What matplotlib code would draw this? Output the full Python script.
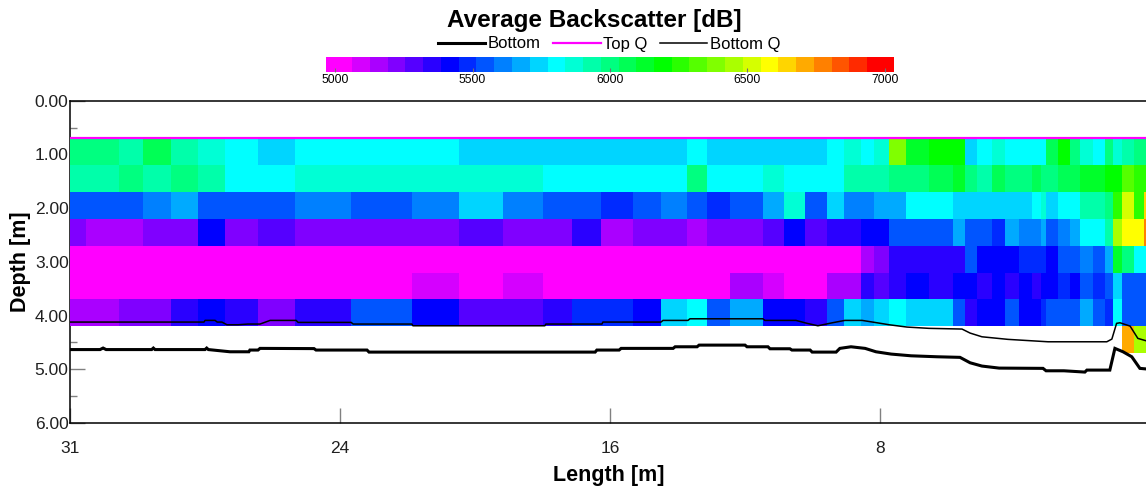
import numpy as np
import matplotlib
matplotlib.use('Agg')
import matplotlib.pyplot as plt
from matplotlib.colors import ListedColormap, BoundaryNorm

plt.rcParams['font.family'] = ['Liberation Sans', 'DejaVu Sans']

# --------------------------------------------
# DATA
# --------------------------------------------
scale_colors = ['#ff00ff', '#d500ff', '#aa00ff', '#8000ff', '#5500ff', '#2a00ff', '#0000ff',
                '#002aff', '#0055ff', '#0080ff', '#00aaff', '#00d5ff', '#00ffff', '#00ffd5',
                '#00ffaa', '#00ff80', '#00ff55', '#00ff2a', '#00ff00', '#2aff00', '#55ff00',
                '#80ff00', '#aaff00', '#d5ff00', '#ffff00', '#ffd500', '#ffaa00', '#ff8000',
                '#ff5500', '#ff2a00', '#ff0000']
# edges of the colour steps, dB
scale_bounds = [4967, 5062, 5127, 5191, 5256, 5320, 5385, 5450, 5514, 5579, 5643, 5708, 5773,
                5837, 5902, 5966, 6031, 6096, 6160, 6225, 6289, 6354, 6419, 6483, 6548, 6612,
                6677, 6742, 6806, 6871, 6935, 7033]
scale_ticks = [5000, 5500, 6000, 6500, 7000]

length_edges = [32.02, 31.52, 30.55, 29.83, 29.02, 28.22, 27.41, 26.42, 25.33, 23.67, 21.87,
                20.47, 19.17, 17.99, 17.13, 16.28, 15.33, 14.48, 13.73, 13.13, 12.43, 11.48,
                10.83, 10.23, 9.58, 9.08, 8.57, 8.18, 7.72, 7.23, 6.54, 5.83, 5.47, 5.13, 4.68,
                4.29, 3.87, 3.49, 3.23, 3.08, 2.73, 2.37, 2.07, 1.68, 1.32, 1.09, 0.83, 0.47,
                0.18, 0.0]
depth_edges = [0.70, 1.20, 1.70, 2.20, 2.70, 3.20, 3.70, 4.20, 4.70]

# backscatter per depth cell, as colour step of the scale (0 = 5000 dB, 30 = 7000 dB)
cells_07 = [15, 15, 14, 16, 14, 13, 12, 11, 12, 12, 12, 11, 11, 11, 11, 11, 11, 11, 12, 11, 11, 11, 11, 11, 12,
            13, 12, 13, 21, 17, 18, 18, 11, 12, 13, 12, 12, 12, 12, 16, 18, 15, 13, 12, 15, 13, 14, 15, 15]
cells_12 = [14, 14, 15, 14, 15, 14, 12, 12, 13, 13, 13, 13, 13, 12, 12, 12, 12, 12, 15, 12, 12, 13, 12, 12, 12,
            14, 14, 14, 15, 15, 16, 17, 15, 14, 16, 15, 15, 16, 15, 15, 16, 16, 17, 17, 18, 18, 20, 19, 19]
cells_17 = [8, 8, 8, 9, 10, 8, 8, 8, 9, 8, 9, 11, 9, 8, 8, 7, 8, 9, 8, 7, 8, 10, 13, 8, 11,
            9, 9, 10, 10, 12, 12, 11, 11, 11, 11, 11, 11, 12, 13, 11, 12, 12, 14, 14, 15, 19, 23, 19, 25]
cells_22 = [3, 2, 2, 3, 3, 6, 3, 4, 3, 3, 3, 4, 3, 3, 5, 2, 3, 3, 2, 3, 3, 4, 6, 4, 5,
            5, 6, 6, 8, 8, 8, 10, 8, 8, 7, 10, 9, 9, 10, 8, 9, 10, 12, 12, 14, 22, 24, 24, 27]
cells_27 = [0, 0, 0, 0, 0, 0, 0, 0, 0, 0, 0, 0, 0, 0, 0, 0, 0, 0, 0, 0, 0, 0, 0, 0, 0,
            0, 2, 3, 5, 5, 5, 5, 8, 6, 6, 6, 7, 7, 7, 6, 8, 8, 9, 8, 10, 17, 15, 12, 12]
cells_32 = [0, 0, 0, 0, 0, 0, 0, 0, 0, 0, 1, 0, 1, 0, 0, 0, 0, 0, 0, 0, 2, 1, 0, 0, 2,
            2, 5, 4, 5, 6, 5, 6, 6, 5, 6, 5, 6, 5, 6, 6, 7, 6, 8, 7, 8, 11, 8, 8, 8]
cells_37 = [2, 2, 3, 3, 5, 6, 5, 3, 5, 8, 6, 4, 4, 5, 7, 7, 6, 11, 12, 8, 10, 6, 6, 5, 8,
            11, 10, 11, 12, 11, 11, 8, 5, 6, 6, 8, 6, 6, 7, 8, 8, 8, 10, 8, 7, 12, 8, 8, 8]
cells_42 = [None] * 46 + [26, 22, 22]

top_q_length = [32.0, 0.0]
top_q_depth = [0.70, 0.70]

bottom_length = [32.0, 31.11, 31.02, 30.93, 29.58, 29.53, 29.48, 28.0, 27.95, 27.9, 27.26, 26.70, 26.67, 26.43,
                 26.37, 24.77, 24.71, 23.2, 23.14, 17.1, 16.44, 16.39, 15.73, 15.67, 14.13, 14.07, 13.42,
                 13.36, 12.0, 11.94, 11.32, 11.26, 10.67, 10.61, 10.07, 10.01, 9.30, 9.19, 8.86, 8.44, 8.12,
                 7.67, 7.08, 6.31, 5.63, 5.33, 4.98, 4.47, 3.17, 3.08, 2.55, 1.93, 1.87, 1.19, 1.04, 0.80,
                 0.54, 0.30, 0.0]
bottom_depth = [4.633, 4.633, 4.605, 4.633, 4.633, 4.605, 4.633, 4.633, 4.605, 4.633, 4.674, 4.674, 4.642, 4.642,
                4.611, 4.615, 4.642, 4.642, 4.68, 4.68, 4.68, 4.642, 4.642, 4.611, 4.611, 4.581, 4.581,
                4.55, 4.55, 4.581, 4.581, 4.618, 4.618, 4.642, 4.642, 4.68, 4.68, 4.611, 4.581, 4.611, 4.674,
                4.717, 4.749, 4.767, 4.778, 4.879, 4.94, 4.978, 4.983, 5.028, 5.028, 5.052, 5.015, 5.015, 4.611, 4.674,
                4.767, 4.983, 5.0]

bottom_q_length = [32.0, 28.03, 28.0, 27.7, 27.64, 27.5, 27.35, 27.02, 26.73, 26.37, 26.07, 25.3, 25.24, 23.67,
                   23.61, 21.87, 21.84, 17.93, 17.9, 16.24, 16.21, 14.49, 14.43, 13.69, 13.63, 11.47, 11.41,
                   10.49, 10.16, 9.84, 9.41, 9.04, 8.53, 8.16, 7.73, 7.2, 6.55, 5.57, 5.33, 4.98, 4.21, 3.02,
                   1.28, 1.13, 0.99, 0.89, 0.59, 0.36, 0.0]
bottom_q_depth = [4.121, 4.121, 4.09, 4.09, 4.121, 4.121, 4.171, 4.171, 4.158, 4.158, 4.09, 4.09, 4.127, 4.127,
                  4.158, 4.158, 4.19, 4.19, 4.158, 4.158, 4.121, 4.121, 4.09, 4.09, 4.06, 4.06, 4.09,
                  4.09, 4.145, 4.19, 4.134, 4.09, 4.09, 4.127, 4.171, 4.214, 4.238, 4.251, 4.326, 4.395, 4.443, 4.488,
                  4.488, 4.438, 4.145, 4.134, 4.196, 4.425, 4.49]

length_ticks = [32, 24, 16, 8, 0]
length_labels = ['31', '24', '16', '8', '0']
depth_ticks = [0, 1, 2, 3, 4, 5, 6]
depth_minor = [0.5, 1.5, 2.5, 3.5, 4.5, 5.5]

# --------------------------------------------
# PLOT
# --------------------------------------------
W, H = 1146, 486
fig = plt.figure(figsize=(W / 100, H / 100), dpi=100)


def px_axes(x0, y0, x1, y1):
    return fig.add_axes([x0 / W, 1 - y1 / H, (x1 - x0) / W, (y1 - y0) / H])


cmap = ListedColormap(scale_colors)
norm = BoundaryNorm(scale_bounds, cmap.N)
centres = (np.array(scale_bounds[:-1]) + np.array(scale_bounds[1:])) / 2
centres[0] = 5000
centres[-1] = 7000

rows = [cells_07, cells_12, cells_17, cells_22, cells_27, cells_32, cells_37, cells_42]
values = np.full((len(rows), len(length_edges) - 1), np.nan)
for i, row in enumerate(rows):
    for j, step in enumerate(row):
        if step is not None:
            values[i, j] = centres[step]

# the plot runs past the right edge of the picture, length 0 is cut off
ax = px_axes(70, 100.7, 1150, 423)
ax.pcolormesh(length_edges, depth_edges, values, cmap=cmap, norm=norm, zorder=3)
ax.plot(bottom_length, bottom_depth, color='black', lw=2.2, label='Bottom', zorder=4, solid_joinstyle='miter')
ax.plot(top_q_length, top_q_depth, color='#ff00ff', lw=1.6, label='Top Q', zorder=4)
ax.plot(bottom_q_length, bottom_q_depth, color='black', lw=1.1, label='Bottom Q', zorder=4)

ax.set_xlim(32, 0)
ax.set_ylim(6, 0)
ax.set_xticks(length_ticks)
ax.set_xticklabels(length_labels)
ax.set_yticks(depth_ticks)
ax.set_yticklabels([f'{d:.2f}' for d in depth_ticks])
ax.set_yticks(depth_minor, minor=True)
ax.tick_params(axis='x', direction='in', length=11, width=1, color='#808080', pad=13, labelsize=12.5, labelcolor='#202020')
ax.tick_params(axis='y', which='major', direction='in', length=11, width=1, color='#808080', pad=1, labelsize=12.5, labelcolor='#202020')
ax.tick_params(axis='y', which='minor', direction='in', length=5, width=1, color='#808080')
for spine in ax.spines.values():
    spine.set_linewidth(1.1)
    spine.set_zorder(2.5)
ax.set_xlabel('Length [m]', fontweight='bold', fontsize=15.5)
ax.xaxis.set_label_coords((609 - 70) / 1080, -(475 - 423) / 322.3, transform=ax.transAxes)
ax.xaxis.label.set_verticalalignment('center')
ax.set_ylabel('Depth [m]', fontweight='bold', fontsize=15.5)
ax.yaxis.set_label_coords(-(70 - 21) / 1080, (423 - 262) / 322.3, transform=ax.transAxes)
ax.yaxis.label.set_verticalalignment('center')

fig.suptitle('Average Backscatter [dB]', x=594 / W, y=1 - 21 / H, va='center', fontweight='bold', fontsize=17.5)
fig.legend(*ax.get_legend_handles_labels(), loc='center', bbox_to_anchor=(609 / W, 1 - 44 / H), ncol=3,
           frameon=False, fontsize=12, handlelength=2.85, handletextpad=0.15, columnspacing=0.75,
           borderpad=0, borderaxespad=0)

# colour bar
cax = px_axes(326, 57, 894, 71.7)
cax.pcolormesh(scale_bounds, [0, 1], np.array([centres]), cmap=cmap, norm=norm)
cax.set_xlim(scale_bounds[0], scale_bounds[-1])
cax.set_ylim(0, 1)
cax.set_yticks([])
cax.set_xticks(scale_ticks)
cax.tick_params(axis='x', direction='in', length=3, width=0.8, color='#707070', pad=2, labelsize=8.7)
for spine in cax.spines.values():
    spine.set_visible(False)

fig.savefig('out.png', dpi=100)
